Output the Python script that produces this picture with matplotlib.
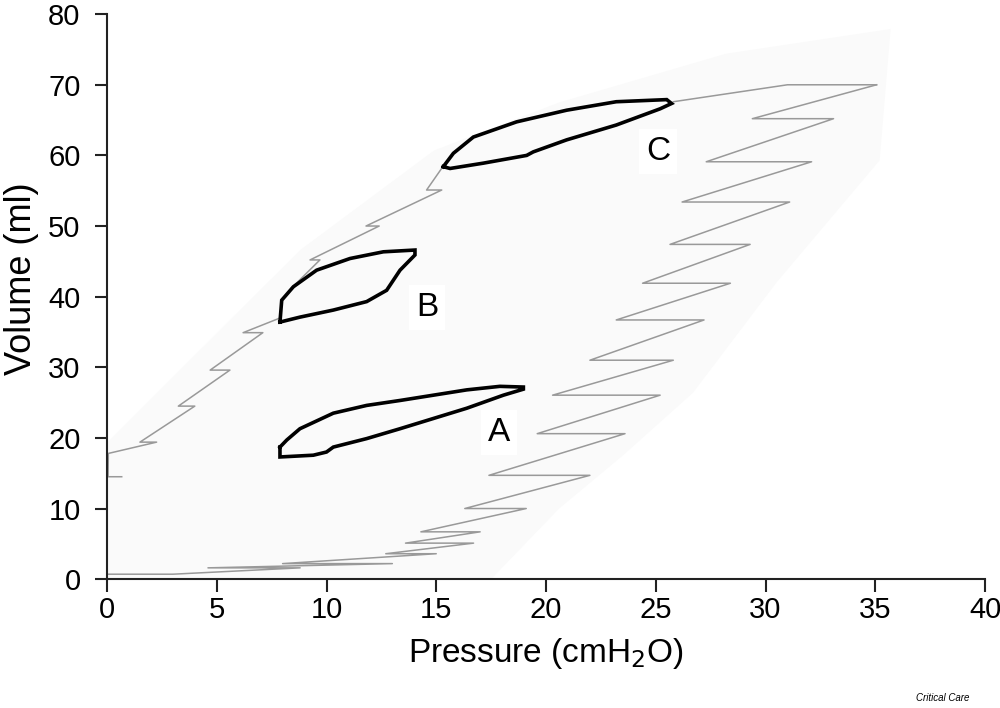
import numpy as np
import matplotlib
matplotlib.use("Agg")
import matplotlib.pyplot as plt

plt.rcParams["font.family"] = ["Liberation Sans", "DejaVu Sans"]

# ===== data (pressure cmH2O, volume ml) =====
# light envelope behind the traces
env_p = [0.0, 0.0, 2.7, 8.8, 14.9, 20.6, 28.2, 35.7, 35.2, 30.5, 26.7, 23.5, 20.6, 17.5]
env_v = [0.0, 19.3, 27.7, 46.6, 60.7, 67.5, 74.4, 77.9, 59.3, 42.0, 26.4, 17.5, 10.0, 0.0]

# inflation limb: each pause level with pressure at its two ends
infl_vol = [0.7, 1.6, 2.2, 3.6, 5.1, 6.7, 10.0, 14.7, 20.6, 26.05, 31.0, 36.7, 41.9, 47.4, 53.4, 59.1, 65.2]
infl_p_low = [0.0, 4.6, 8.0, 12.7, 13.6, 14.3, 16.3, 17.4, 19.6, 20.3, 22.0, 23.2, 24.4, 25.65, 26.2, 27.3, 29.4]
infl_p_high = [3.0, 8.8, 13.0, 15.0, 16.7, 17.0, 19.1, 22.0, 23.6, 25.2, 25.8, 27.2, 28.4, 29.3, 31.1, 32.1, 33.1]
peak_p, peak_v = 35.06, 70.0

# deflation limb (nan = hidden under a loop)
defl_p = [35.06, 31.0, 25.8, np.nan, 15.3, 14.56, 15.25, 11.8, 12.4, 9.25, 9.7, 8.4, np.nan,
          7.9, 6.2, 7.1, 4.7, 5.6, 3.25, 4.0, 1.5, 2.26, 0.06, 0.05, 0.67]
defl_v = [70.0, 70.0, 67.6, np.nan, 58.4, 55.1, 55.1, 50.0, 50.0, 45.2, 45.2, 41.2, np.nan,
          37.0, 34.9, 34.9, 29.6, 29.6, 24.5, 24.5, 19.4, 19.4, 17.8, 14.5, 14.5]

# tidal loops
loop_a_p = [7.88, 8.19, 8.79, 10.31, 11.83, 13.35, 14.87, 16.39, 17.9, 18.97, 18.97, 18.06, 16.39,
            14.87, 13.35, 11.83, 10.31, 10.0, 9.4, 7.88, 7.88]
loop_a_v = [18.7, 19.7, 21.3, 23.5, 24.6, 25.3, 26.05, 26.8, 27.3, 27.2, 26.9, 26.05, 24.2,
            22.75, 21.3, 19.9, 18.7, 18.0, 17.55, 17.3, 18.7]
loop_b_p = [7.88, 7.96, 8.49, 9.55, 11.07, 12.59, 14.03, 14.03, 13.35, 12.74, 11.83, 10.31, 8.79, 7.88]
loop_b_v = [36.4, 39.5, 41.4, 43.75, 45.4, 46.35, 46.6, 45.9, 43.75, 40.9, 39.3, 38.1, 37.1, 36.4]
loop_c_p = [15.32, 15.78, 16.69, 18.66, 20.94, 23.2, 25.5, 25.72, 25.2, 23.2, 20.94, 19.42, 19.12,
            17.14, 15.63, 15.32]
loop_c_v = [58.4, 60.3, 62.6, 64.75, 66.4, 67.6, 67.9, 67.35, 66.6, 64.3, 62.2, 60.5, 60.0,
            58.9, 58.15, 58.4]

labels = ["A", "B", "C"]
label_p = [17.86, 14.58, 25.1]
label_v = [20.8, 38.5, 60.5]

# ===== build the inflation sawtooth =====
infl_path_p, infl_path_v = [], []
for k in range(len(infl_vol)):
    if k == 0:
        infl_path_p += [infl_p_low[k], infl_p_high[k]]
    else:
        infl_path_p += [infl_p_high[k], infl_p_low[k]]
    infl_path_v += [infl_vol[k], infl_vol[k]]
infl_path_p.append(peak_p)
infl_path_v.append(peak_v)

# ===== draw =====
fig = plt.figure(figsize=(10, 7.08), dpi=100)
ax = fig.add_axes([0.107, 0.182, 0.878, 0.798])

ax.fill(env_p, env_v, color="#fafafa", lw=0, zorder=0)
ax.plot(infl_path_p, infl_path_v, color="#999999", lw=1.1, zorder=2)
ax.plot(defl_p, defl_v, color="#999999", lw=1.1, zorder=2)

for lp, lv in [(loop_a_p, loop_a_v), (loop_b_p, loop_b_v), (loop_c_p, loop_c_v)]:
    ax.plot(lp, lv, color="black", lw=2.6, solid_joinstyle="miter", zorder=3)

for t, x, y in zip(labels, label_p, label_v):
    ax.text(x, y, t, fontsize=24, ha="center", va="center", zorder=4,
            bbox=dict(facecolor="white", edgecolor="none", pad=5))

ax.set_xlim(0, 40)
ax.set_ylim(0, 80)
ax.set_xticks(range(0, 41, 5))
ax.set_yticks(range(0, 81, 10))
for s in ["top", "right"]:
    ax.spines[s].set_visible(False)
for s in ["left", "bottom"]:
    ax.spines[s].set_linewidth(1.5)
    ax.spines[s].set_color("#222222")
ax.tick_params(direction="out", length=9, width=1.5, color="#222222", labelsize=21)
ax.tick_params(axis="x", pad=3)
ax.tick_params(axis="y", pad=10)

ax.set_xlabel("Pressure (cmH$_2$O)", fontsize=24, labelpad=9)
ax.set_ylabel("Volume (ml)", fontsize=26)
ax.yaxis.set_label_coords(-0.077, 0.532)

fig.text(0.943, 0.007, "Critical Care", fontsize=7, style="italic", ha="center", va="bottom")

fig.savefig("out.png", dpi=100)
plt.close(fig)
